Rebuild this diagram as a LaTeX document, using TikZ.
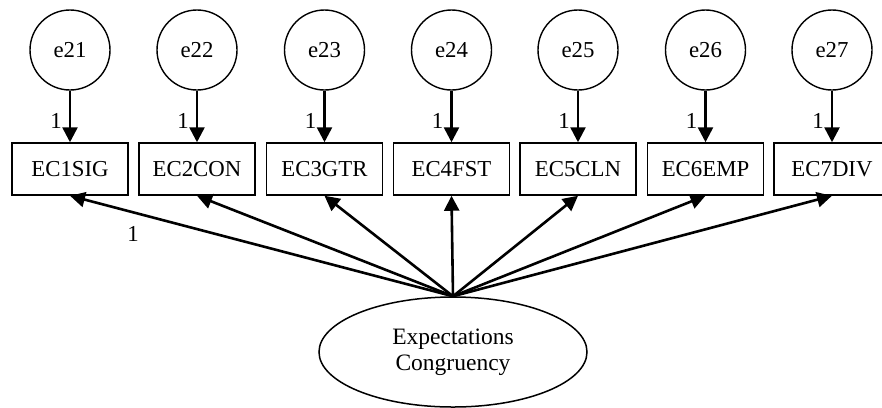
\documentclass[tikz,border=0pt]{standalone}
\usepackage{fontspec}
\setmainfont{Liberation Serif}
\usetikzlibrary{arrows.meta,shapes.geometric}
\begin{document}
\begin{tikzpicture}[x=1bp,y=-1bp,
  errvar/.style={circle,draw,line width=1.4bp,minimum size=80bp,inner sep=0pt,font=\fontsize{22.8bp}{26bp}\selectfont},
  obsvar/.style={rectangle,draw,line width=1.5bp,minimum width=116bp,minimum height=52bp,inner sep=0pt,font=\fontsize{22.8bp}{26bp}\selectfont},
  latvar/.style={ellipse,draw,line width=1.5bp,minimum width=268bp,minimum height=110bp,inner sep=0pt,align=center,font=\fontsize{23.5bp}{26.5bp}\selectfont},
  path/.style={line width=2.6bp,-{Triangle[length=15bp,width=15bp]}},
  wt/.style={font=\fontsize{22.8bp}{26bp}\selectfont,inner sep=0pt}]
\clip (0,0) rectangle (882,407);
% latent factor
\node[latvar] (lat) at (453,352) {Expectations\\Congruency};
% indicators with their error terms
\foreach \i/\x/\e/\lbl in {1/70/e21/EC1SIG,2/197/e22/EC2CON,3/324.5/e23/EC3GTR,4/451.5/e24/EC4FST,5/578/e25/EC5CLN,6/705.5/e26/EC6EMP,7/832/e27/EC7DIV}{
  \node[errvar] (e\i) at (\x,50) {\e};
  \node[obsvar] (b\i) at (\x,169) {\lbl};
  \draw[path] (e\i.south) -- (b\i.north);
  \node[wt] (w\i) at ({\x-14},121) {1};
  \draw[path] (lat.north) -- (b\i.south);
}
\node[wt] (l1) at (133,234) {1};
\end{tikzpicture}
\end{document}
